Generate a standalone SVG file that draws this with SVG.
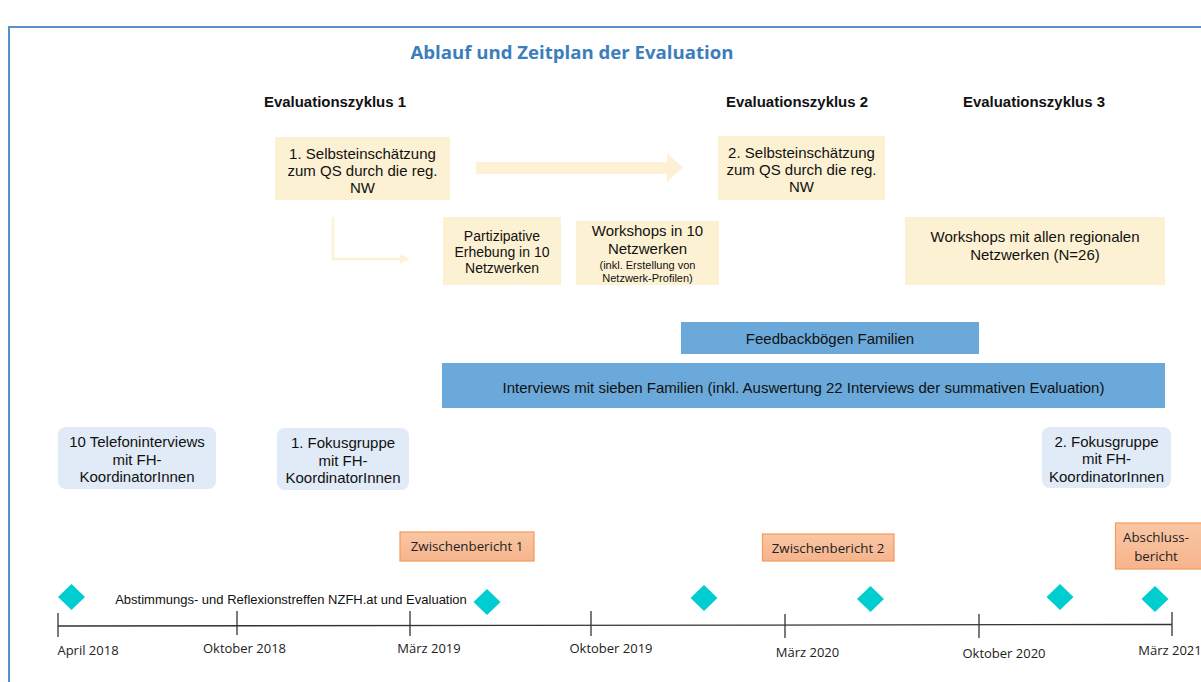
<svg xmlns="http://www.w3.org/2000/svg" width="1201" height="682" viewBox="0 0 1201 682">
<defs>
<style>
.t{font-family:"Liberation Sans",Arial,sans-serif;fill:#111;text-anchor:middle}
.c{font-family:"Open Sans","Liberation Sans",sans-serif;fill:#222;text-anchor:middle}
.beige{fill:#fdf1d3}
.blue{fill:#6aa9da}
.round{fill:#e0ebf7}
.rep{fill:url(#og);stroke:#f79a5a;stroke-width:1.2}
.dia{fill:#00cdd0}
.tick{stroke:#333;stroke-width:1.3}
</style>
<linearGradient id="og" x1="0" y1="0" x2="0" y2="1">
<stop offset="0" stop-color="#f9c6a5"/>
<stop offset="1" stop-color="#f6b48c"/>
</linearGradient>
</defs>
<rect x="0" y="0" width="1201" height="682" fill="#fff"/>
<path d="M9,700 V27 H1210" fill="none" stroke="#5b8fc7" stroke-width="2"/>
<text x="572" y="59" font-family="'Open Sans','Liberation Sans',sans-serif" font-weight="bold" font-size="18" fill="#3b7dbd" text-anchor="middle" textLength="323" lengthAdjust="spacingAndGlyphs">Ablauf und Zeitplan der Evaluation</text>
<g id="cycles">
<text class="t" x="335" y="107" font-size="14.5" font-weight="bold" textLength="142" lengthAdjust="spacingAndGlyphs">Evaluationszyklus 1</text>
<text class="t" x="797" y="107" font-size="14.5" font-weight="bold" textLength="142" lengthAdjust="spacingAndGlyphs">Evaluationszyklus 2</text>
<text class="t" x="1034" y="107" font-size="14.5" font-weight="bold" textLength="142" lengthAdjust="spacingAndGlyphs">Evaluationszyklus 3</text>
</g>
<g id="connectors">
<polygon points="476,162 667,162 667,153 683,167.5 667,182 667,174 476,174" fill="#fdf0d4"/>
<path d="M333,217 V259 H401" fill="none" stroke="#fdf1da" stroke-width="2.5"/>
<polygon points="400,254.5 410,259 400,263.5" fill="#fdf1da"/>
</g>
<g id="selbst1">
<rect class="beige" x="275" y="137" width="175" height="63"/>
<text class="t" font-size="15"><tspan x="362.5" y="158.5">1. Selbsteinschätzung</tspan><tspan x="362.5" y="175.5">zum QS durch die reg.</tspan><tspan x="362.5" y="192.5">NW</tspan></text>
</g>
<g id="partizipativ">
<rect class="beige" x="443" y="217" width="118" height="68"/>
<text class="t" font-size="14"><tspan x="502" y="241">Partizipative</tspan><tspan x="502" y="257">Erhebung in 10</tspan><tspan x="502" y="272.5">Netzwerken</tspan></text>
</g>
<g id="workshops10">
<rect class="beige" x="576" y="221" width="143" height="64"/>
<text class="t" font-size="15"><tspan x="647.5" y="235.5">Workshops in 10</tspan><tspan x="647.5" y="253.5">Netzwerken</tspan></text>
<text class="t" font-size="11"><tspan x="647.5" y="268.5">(inkl. Erstellung von</tspan><tspan x="647.5" y="281.5">Netzwerk-Profilen)</tspan></text>
</g>
<g id="selbst2">
<rect class="beige" x="718" y="136" width="167" height="64"/>
<text class="t" font-size="15"><tspan x="801.5" y="157.5">2. Selbsteinschätzung</tspan><tspan x="801.5" y="174.5">zum QS durch die reg.</tspan><tspan x="801.5" y="191.5">NW</tspan></text>
</g>
<g id="workshopsAlle">
<rect class="beige" x="905" y="217" width="260" height="68"/>
<text class="t" font-size="15"><tspan x="1035" y="241.5">Workshops mit allen regionalen</tspan><tspan x="1035" y="259.5">Netzwerken (N=26)</tspan></text>
</g>
<g id="feedback">
<rect class="blue" x="681" y="322" width="298" height="32"/>
<text class="t" x="830" y="343.5" font-size="15">Feedbackbögen Familien</text>
</g>
<g id="interviews">
<rect class="blue" x="442" y="363" width="723" height="45"/>
<text class="t" x="803.5" y="392.5" font-size="15">Interviews mit sieben Familien (inkl. Auswertung 22 Interviews der summativen Evaluation)</text>
</g>
<g id="telefon">
<rect class="round" x="58" y="427" width="158" height="62" rx="8"/>
<text class="t" font-size="15"><tspan x="137" y="446.5">10 Telefoninterviews</tspan><tspan x="137" y="464.5">mit FH-</tspan><tspan x="137" y="481.5">KoordinatorInnen</tspan></text>
</g>
<g id="fokus1">
<rect class="round" x="277" y="428" width="132" height="62" rx="8"/>
<text class="t" font-size="15"><tspan x="343" y="447.5">1. Fokusgruppe</tspan><tspan x="343" y="465.5">mit FH-</tspan><tspan x="343" y="482.5">KoordinatorInnen</tspan></text>
</g>
<g id="fokus2">
<rect class="round" x="1042" y="427" width="129" height="61" rx="8"/>
<text class="t" font-size="15"><tspan x="1106.5" y="446.5">2. Fokusgruppe</tspan><tspan x="1106.5" y="463.5">mit FH-</tspan><tspan x="1106.5" y="481.5">KoordinatorInnen</tspan></text>
</g>
<g id="zb1">
<rect class="rep" x="400" y="532" width="134" height="29"/>
<text class="c" x="467" y="551" font-size="13.3">Zwischenbericht 1</text>
</g>
<g id="zb2">
<rect class="rep" x="762.5" y="534" width="131.5" height="27"/>
<text class="c" x="828" y="552.5" font-size="13.3">Zwischenbericht 2</text>
</g>
<g id="abschluss">
<rect class="rep" x="1115.5" y="523" width="90" height="46"/>
<text class="c" font-size="13.3"><tspan x="1156" y="542">Abschluss-</tspan><tspan x="1156" y="561">bericht</tspan></text>
</g>
<g id="timeline">
<line x1="58" y1="626" x2="1172" y2="624.5" class="tick"/>
<line x1="58" y1="613" x2="58" y2="637" class="tick"/>
<line x1="237" y1="611" x2="237" y2="635" class="tick"/>
<line x1="410" y1="611" x2="410" y2="636" class="tick"/>
<line x1="591" y1="611" x2="591" y2="636" class="tick"/>
<line x1="785" y1="614" x2="785" y2="638" class="tick"/>
<line x1="979" y1="614" x2="979" y2="638" class="tick"/>
<line x1="1172" y1="612" x2="1172" y2="636" class="tick"/>
<text class="c" font-size="13"><tspan x="88" y="655">April 2018</tspan><tspan x="244.5" y="653">Oktober 2018</tspan><tspan x="429" y="653">März 2019</tspan><tspan x="611" y="653">Oktober 2019</tspan><tspan x="807.5" y="657">März 2020</tspan><tspan x="1004" y="658">Oktober 2020</tspan><tspan x="1170" y="655">März 2021</tspan></text>
</g>
<g id="treffen">
<text class="t" x="291" y="604" font-size="13">Abstimmungs- und Reflexionstreffen NZFH.at und Evaluation</text>
<polygon class="dia" points="71.5,584 85,597 71.5,610 58,597"/>
<polygon class="dia" points="487,589 500.5,602 487,615 473.5,602"/>
<polygon class="dia" points="704,585 717.5,598 704,611 690.5,598"/>
<polygon class="dia" points="870.5,586 884,599 870.5,612 857,599"/>
<polygon class="dia" points="1060,584 1073.5,597 1060,610 1046.5,597"/>
<polygon class="dia" points="1155,586 1168.5,599 1155,612 1141.5,599"/>
</g>
</svg>
